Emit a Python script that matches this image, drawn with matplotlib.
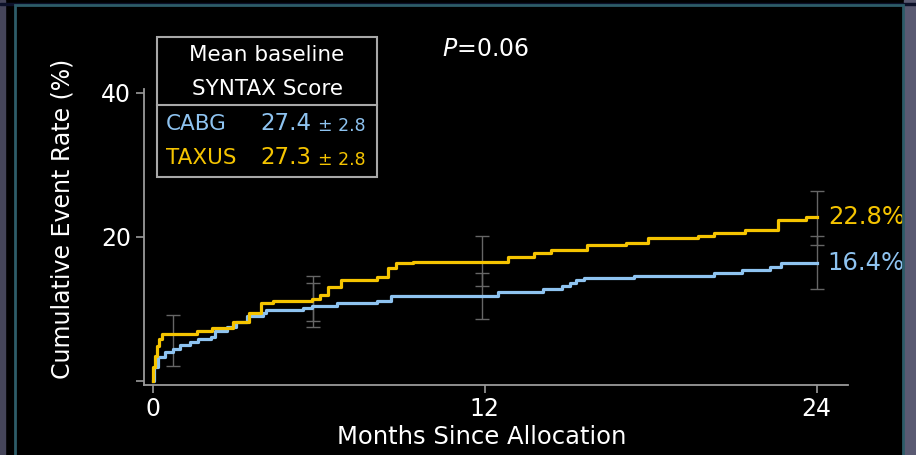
import numpy as np
import matplotlib.pyplot as plt
from matplotlib.patches import Rectangle
from matplotlib.lines import Line2D

# Kaplan-Meier style cumulative event curves (months, %)
taxus_t = [0, 0.03, 0.08, 0.15, 0.25, 0.34, 1.6, 2.15, 2.9, 3.5, 3.9, 4.35, 5.75, 6.05,
           6.35, 6.8, 8.1, 8.5, 8.8, 9.4, 12.85, 13.8, 14.4, 15.7, 17.1, 17.9, 19.7,
           20.3, 21.4, 22.6, 23.6, 24]
taxus_y = [0, 2.0, 3.5, 4.8, 5.8, 6.6, 7.0, 7.4, 8.2, 9.4, 10.8, 11.1, 11.4, 12.0,
           13.1, 14.0, 14.4, 15.7, 16.4, 16.5, 17.2, 17.8, 18.2, 18.9, 19.2, 19.9, 20.1,
           20.5, 21.0, 22.4, 22.8, 22.8]
cabg_t = [0, 0.05, 0.2, 0.45, 0.75, 1.0, 1.35, 1.65, 2.1, 2.25, 2.7, 3.0, 3.4, 4.0, 4.1,
          5.45, 5.75, 6.65, 8.1, 8.6, 12.5, 14.1, 14.8, 15.1, 15.3, 15.6, 17.4, 20.3,
          21.3, 22.3, 22.7, 24]
cabg_y = [0, 2.0, 3.3, 4.0, 4.4, 5.0, 5.4, 5.8, 6.1, 7.0, 7.5, 8.2, 9.0, 9.4, 9.9,
          10.1, 10.4, 10.8, 11.1, 11.8, 12.4, 12.8, 13.2, 13.6, 14.0, 14.3, 14.6, 15.0,
          15.4, 15.8, 16.4, 16.4]

# confidence interval bars
ci_month = [0.75, 5.78, 5.78, 11.9, 11.9, 24, 24]
ci_lo = [2.1, 8.3, 7.5, 13.2, 8.6, 18.9, 12.8]
ci_hi = [9.2, 14.6, 13.6, 20.1, 15.0, 26.4, 20.1]

yellow = "#f5c400"
blue = "#8ec3f0"
W, H = 916, 455

fig = plt.figure(figsize=(9.16, 4.55), dpi=100, facecolor="black")


def fx(x):
    return x / W


def fy(y):
    return 1 - y / H


# frame decoration
fig.patches.append(Rectangle((0, 0), fx(5), 1, transform=fig.transFigure, color="#45455a", zorder=0))
fig.patches.append(Rectangle((fx(904), 0), fx(12), 1, transform=fig.transFigure, color="#5a5a72", zorder=0))
fig.patches.append(Rectangle((0, fy(5)), 1, fx(5), transform=fig.transFigure, color="#0b1028", zorder=0))
fig.patches.append(Rectangle((fx(15), fy(460)), fx(888), (455 / H), transform=fig.transFigure,
                             fill=False, edgecolor="#2d5c68", lw=2, zorder=1))

ax = fig.add_axes([fx(144), fy(385), fx(848 - 144), (385 - 89) / H])
ax.set_facecolor("black")

ci_x = np.array(ci_month)
ax.errorbar(ci_x, (np.array(ci_lo) + np.array(ci_hi)) / 2,
            yerr=(np.array(ci_hi) - np.array(ci_lo)) / 2, fmt="none",
            ecolor="#666666", elinewidth=1, capsize=5, capthick=1, zorder=2)
ax.plot(cabg_t, cabg_y, drawstyle="steps-post", color=blue, lw=2.3, zorder=3)
ax.plot(taxus_t, taxus_y, drawstyle="steps-post", color=yellow, lw=2.3, zorder=4)

ax.set_xlim(-0.31, 25.13)
ax.set_ylim(-0.55, 40.55)
ax.set_xticks([0, 12, 24])
ax.set_yticks([0, 20, 40])
ax.set_yticklabels(["", "20", "40"])
for s in ["top", "right"]:
    ax.spines[s].set_visible(False)
for s in ["left", "bottom"]:
    ax.spines[s].set_color("#9a9a9a")
    ax.spines[s].set_linewidth(1.3)
ax.tick_params(colors="#9a9a9a", labelcolor="white", labelsize=17, length=6, width=1.2)
ax.tick_params(axis="x", pad=3)
ax.set_xlabel("Months Since Allocation", color="white", fontsize=17.5)
ax.xaxis.set_label_coords((482 - 144) / 704, (385 - 437) / 296)
ax.xaxis.label.set_va("center")
ax.set_ylabel("Cumulative Event Rate (%)", color="white", fontsize=17)
ax.yaxis.set_label_coords((63 - 144) / 704, (385 - 219) / 296)
ax.yaxis.label.set_va("center")

ax.text(24.4, taxus_y[-1], "22.8%", color=yellow, fontsize=17.5, va="center", ha="left")
ax.text(24.4, cabg_y[-1], "16.4%", color=blue, fontsize=17.5, va="center", ha="left")

# legend box
fig.patches.append(Rectangle((fx(157), fy(177)), fx(377 - 157), (177 - 37) / H,
                             transform=fig.transFigure, fill=False, edgecolor="#a8a8a8", lw=1.5))
fig.lines.append(Line2D([fx(157), fx(377)], [fy(105), fy(105)], transform=fig.transFigure,
                        color="#a8a8a8", lw=1.5))
fig.text(fx(267), fy(55), "Mean baseline", color="white", fontsize=15.5, ha="center", va="center")
fig.text(fx(267), fy(89), "SYNTAX Score", color="white", fontsize=15.5, ha="center", va="center")
fig.text(fx(166), fy(124), "CABG", color=blue, fontsize=15.5, ha="left", va="center")
fig.text(fx(260), fy(124), "27.4", color=blue, fontsize=16.5, ha="left", va="center")
fig.text(fx(318), fy(126), "± 2.8", color=blue, fontsize=12.5, ha="left", va="center")
fig.text(fx(166), fy(158), "TAXUS", color=yellow, fontsize=15.5, ha="left", va="center")
fig.text(fx(260), fy(158), "27.3", color=yellow, fontsize=16.5, ha="left", va="center")
fig.text(fx(318), fy(160), "± 2.8", color=yellow, fontsize=12.5, ha="left", va="center")

fig.text(fx(442), fy(49), r"$\mathit{P}$=0.06", color="white", fontsize=17, ha="left", va="center")

fig.savefig("out.png", dpi=100, facecolor="black")
